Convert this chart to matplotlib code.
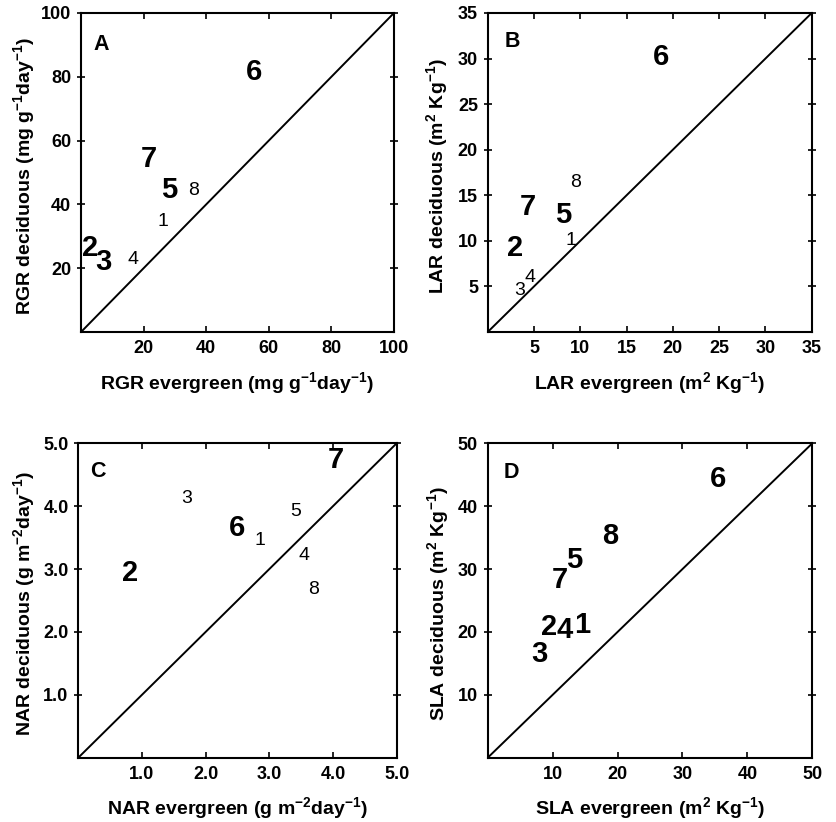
import matplotlib
matplotlib.use('Agg')
import matplotlib.pyplot as plt

plt.rcParams['font.family'] = ['Liberation Sans', 'DejaVu Sans']
plt.rcParams['mathtext.fontset'] = 'custom'
plt.rcParams['mathtext.rm'] = 'Liberation Sans:bold'
plt.rcParams['mathtext.it'] = 'Liberation Sans:bold'
plt.rcParams['mathtext.bf'] = 'Liberation Sans:bold'
plt.rcParams['mathtext.default'] = 'rm'

# species numbers shown in every panel
labels = ['1', '2', '3', '4', '5', '6', '7', '8']

# A: RGR (mg g-1 day-1)
rgr_ever = [26.1, 2.9, 7.1, 16.5, 28.2, 55.3, 21.8, 35.9]
rgr_decid = [34.5, 26.3, 22.0, 22.6, 44.5, 81.5, 54.2, 44.5]
rgr_bold = [False, True, True, False, True, True, True, False]

# B: LAR (m2 Kg-1)
lar_ever = [9.0, 3.0, 3.4, 4.6, 8.1, 18.7, 4.3, 9.5]
lar_decid = [10.0, 9.2, 4.6, 6.0, 12.8, 30.2, 13.7, 16.4]
lar_bold = [False, True, False, False, True, True, True, False]

# C: NAR (g m-2 day-1)
nar_ever = [2.86, 0.81, 1.70, 3.54, 3.42, 2.50, 4.05, 3.69]
nar_decid = [3.45, 2.93, 4.12, 3.22, 3.92, 3.66, 4.73, 2.67]
nar_bold = [False, True, False, False, False, True, True, False]

# D: SLA (m2 Kg-1)
sla_ever = [14.6, 9.5, 7.9, 11.8, 13.3, 35.4, 11.1, 18.9]
sla_decid = [21.1, 20.8, 16.5, 20.3, 31.4, 44.4, 28.2, 35.3]
sla_bold = [True, True, True, True, True, True, True, True]

panels = [
    dict(letter='A', x=rgr_ever, y=rgr_decid, bold=rgr_bold, lim=100,
         ticks=[20, 40, 60, 80, 100], fmt='{:d}', letter_pos=(6.6, 90),
         xlabel='RGR evergreen (mg g$^{-1}$day$^{-1}$)',
         ylabel='RGR deciduous (mg g$^{-1}$day$^{-1}$)', ylab_x=-0.14,
         rect=[0.0968, 0.5961, 0.3739, 0.3881]),
    dict(letter='B', x=lar_ever, y=lar_decid, bold=lar_bold, lim=35,
         ticks=[5, 10, 15, 20, 25, 30, 35], fmt='{:d}', letter_pos=(2.7, 31.9),
         xlabel='LAR evergreen (m$^2$ Kg$^{-1}$)',
         ylabel='LAR deciduous (m$^2$ Kg$^{-1}$)', ylab_x=-0.117,
         rect=[0.5827, 0.5961, 0.3871, 0.3881]),
    dict(letter='C', x=nar_ever, y=nar_decid, bold=nar_bold, lim=5.0,
         ticks=[1.0, 2.0, 3.0, 4.0, 5.0], fmt='{:.1f}', letter_pos=(0.31, 4.55),
         xlabel='NAR evergreen (g m$^{-2}$day$^{-1}$)',
         ylabel='NAR deciduous (g m$^{-2}$day$^{-1}$)', ylab_x=-0.129,
         rect=[0.0935, 0.0782, 0.3804, 0.3825]),
    dict(letter='D', x=sla_ever, y=sla_decid, bold=sla_bold, lim=50,
         ticks=[10, 20, 30, 40, 50], fmt='{:d}', letter_pos=(3.7, 45.3),
         xlabel='SLA evergreen (m$^2$ Kg$^{-1}$)',
         ylabel='SLA deciduous (m$^2$ Kg$^{-1}$)', ylab_x=-0.114,
         rect=[0.5827, 0.0782, 0.3878, 0.3825]),
]

fig = plt.figure(figsize=(8.37, 8.22), dpi=100)

for p in panels:
    ax = fig.add_axes(p['rect'])
    lim = p['lim']
    ax.set_xlim(0, lim)
    ax.set_ylim(0, lim)

    # 1:1 line
    ax.plot([0, lim], [0, lim], color='black', lw=1.4)

    for lab, xv, yv, b in zip(labels, p['x'], p['y'], p['bold']):
        if b:
            ax.text(xv, yv, lab, ha='center', va='center', fontsize=21, fontweight='bold')
        else:
            ax.text(xv, yv, lab, ha='center', va='center', fontsize=14)

    ax.text(p['letter_pos'][0], p['letter_pos'][1], p['letter'], ha='center', va='center',
            fontsize=15.5, fontweight='bold')

    ax.set_xticks(p['ticks'])
    ax.set_yticks(p['ticks'])
    ax.set_xticklabels([p['fmt'].format(t) for t in p['ticks']], fontsize=13, fontweight='bold')
    ax.set_yticklabels([p['fmt'].format(t) for t in p['ticks']], fontsize=13, fontweight='bold')
    ax.tick_params(axis='x', direction='in', length=4, width=1.2, pad=6, top=True)
    ax.tick_params(axis='y', direction='inout', length=6, width=1.2, pad=4, right=True)

    for s in ax.spines.values():
        s.set_linewidth(1.5)

    ax.set_xlabel(p['xlabel'], fontsize=14, fontweight='bold', labelpad=9)
    ax.set_ylabel(p['ylabel'], fontsize=14, fontweight='bold')
    ax.yaxis.set_label_coords(p['ylab_x'], 0.49)

fig.savefig('out.png', dpi=100)
